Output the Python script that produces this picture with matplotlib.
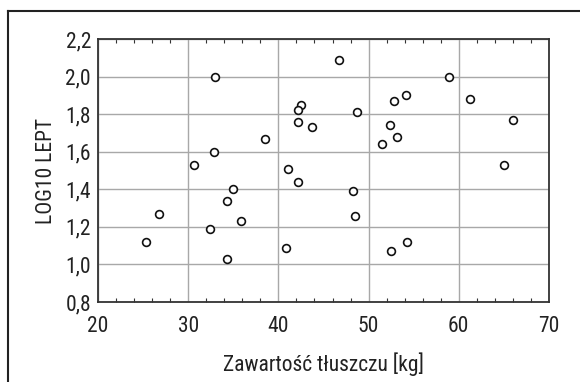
import numpy as np
import matplotlib.pyplot as plt
from matplotlib.lines import Line2D
from matplotlib.ticker import FixedLocator, FixedFormatter, MultipleLocator

plt.rcParams['font.family'] = ['Roboto Condensed', 'DejaVu Sans']

# zawartość tłuszczu [kg] i log10 leptyny
fat = [33.0, 32.9, 30.6, 38.5, 41.1, 35.0, 34.3, 25.3, 26.8, 32.4, 35.9,
       34.3, 40.8, 42.2, 46.7, 58.9, 42.5, 42.2, 42.2, 43.7, 48.7, 52.8,
       54.1, 61.2, 66.0, 52.4, 53.1, 51.5, 65.0, 48.3, 48.5, 52.5, 54.3]
log_lept = [2.00, 1.60, 1.53, 1.67, 1.51, 1.40, 1.34, 1.12, 1.27, 1.19, 1.23,
            1.03, 1.09, 1.44, 2.09, 2.00, 1.85, 1.82, 1.76, 1.73, 1.81, 1.87,
            1.90, 1.88, 1.77, 1.74, 1.68, 1.64, 1.53, 1.39, 1.26, 1.07, 1.12]

x_ticks = [20, 30, 40, 50, 60, 70]
x_labels = ['20', '30', '40', '50', '60', '70']
y_ticks = [0.8, 1.0, 1.2, 1.4, 1.6, 1.8, 2.0, 2.2]
y_labels = ['0,8', '1,0', '1,2', '1,4', '1,6', '1,8', '2,0', '2,2']

fs = 15.5

fig = plt.figure(figsize=(5.8, 3.82), dpi=100)
ax = fig.add_axes([98 / 580, 1 - 302 / 382, 451 / 580, 263 / 382])

ax.plot(fat, log_lept, 'o', ms=5.6, mfc='white', mec='#111111', mew=1.2,
        zorder=3)

ax.set_xlim(20, 70)
ax.set_ylim(0.8, 2.2)
ax.xaxis.set_major_locator(FixedLocator(x_ticks))
ax.xaxis.set_major_formatter(FixedFormatter(x_labels))
ax.yaxis.set_major_locator(FixedLocator(y_ticks))
ax.yaxis.set_major_formatter(FixedFormatter(y_labels))
ax.xaxis.set_minor_locator(MultipleLocator(2))

ax.grid(True, which='major', color='#a8a8a8', lw=1.0)
ax.set_axisbelow(True)

ax.tick_params(which='major', length=0, labelsize=fs, colors='#222222')
ax.tick_params(axis='x', which='major', pad=10)
ax.tick_params(axis='y', which='major', pad=5)
ax.tick_params(axis='x', which='minor', direction='in', length=3,
               top=True, bottom=True, color='#333333', width=0.8)

for s in ax.spines.values():
    s.set_color('#333333')
    s.set_linewidth(1.3)

ax.set_xlabel('Zawartość tłuszczu [kg]', fontsize=fs, color='#222222',
              labelpad=11)
ax.set_ylabel('LOG10 LEPT', fontsize=fs, color='#222222', labelpad=6)

# ramka wokół całego wykresu
fig.add_artist(Line2D([8 / 580, 1.0], [1 - 11 / 382, 1 - 11 / 382],
                      color='#222222', lw=1.5))
fig.add_artist(Line2D([8 / 580, 8 / 580], [1 - 11 / 382, 0.0],
                      color='#222222', lw=1.5))

fig.savefig('out.png', dpi=100)
